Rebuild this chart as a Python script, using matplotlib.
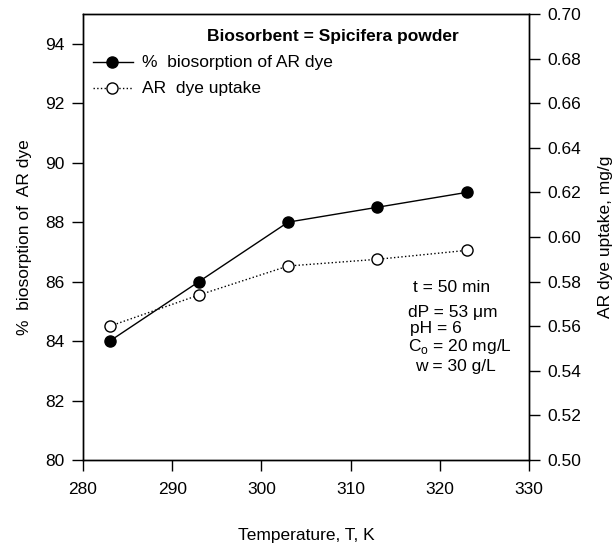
import matplotlib
matplotlib.use("Agg")
import matplotlib.pyplot as plt
from matplotlib.lines import Line2D

plt.rcParams["font.family"] = ["Liberation Sans", "DejaVu Sans"]
plt.rcParams["font.size"] = 12.5

# Temperature effect on AR dye biosorption by Spicifera powder
temperature = [283, 293, 303, 313, 323]
biosorption_pct = [84.0, 86.0, 88.0, 88.5, 89.0]
dye_uptake = [0.560, 0.574, 0.587, 0.590, 0.594]

left_ticks = [80, 82, 84, 86, 88, 90, 92, 94]
right_ticks = [0.50, 0.52, 0.54, 0.56, 0.58, 0.60, 0.62, 0.64, 0.66, 0.68, 0.70]
x_ticks = [280, 290, 300, 310, 320, 330]

conditions = [
    (452, 288, "t = 50 min"),
    (453, 312, "dP = 53 \u03bcm"),
    (436, 329, "pH = 6"),
    (460, 347, "C$_\\mathregular{o}$ = 20 mg/L"),
    (455, 367, "w = 30 g/L"),
]

FS = 12.5
W, H = 613, 548
fig = plt.figure(figsize=(W / 100, H / 100), dpi=100)
ax = fig.add_axes([83 / W, 1 - 460 / H, (529 - 83) / W, (460 - 14) / H])
ax2 = ax.twinx()

ax.plot(temperature, biosorption_pct, "-o", color="black", lw=1,
        markersize=8, markerfacecolor="black", zorder=3)
ax2.plot(temperature, dye_uptake, ":o", color="black", lw=1,
         markersize=8, markerfacecolor="white", zorder=3)

ax.set_xlim(280, 330)
ax.set_ylim(80, 95)
ax2.set_ylim(0.50, 0.70)
ax.set_xticks(x_ticks)
ax.set_yticks(left_ticks)
ax2.set_yticks(right_ticks)
ax2.set_yticklabels([f"{v:.2f}" for v in right_ticks])

for a in (ax, ax2):
    a.tick_params(direction="out", length=8, width=1, pad=5, labelsize=FS)
    for s in a.spines.values():
        s.set_linewidth(1)
ax.tick_params(axis="x", pad=8)

ax.set_xlabel("Temperature, T, K", fontsize=FS, labelpad=22)
ax.set_ylabel("%  biosorption of  AR dye", fontsize=FS, labelpad=10)
ax2.set_ylabel("AR dye uptake, mg/g", fontsize=FS, labelpad=12)

# legend drawn in figure pixels
def fx(px):
    return px / W

def fy(py):
    return 1 - py / H

fig.text(fx(333), fy(36), "Biosorbent = Spicifera powder", fontsize=FS,
         fontweight="bold", ha="center", va="center")
fig.add_artist(Line2D([fx(93), fx(133)], [fy(62), fy(62)], color="black", lw=1))
fig.add_artist(Line2D([fx(112)], [fy(62)], color="black", marker="o",
                      markersize=8, markerfacecolor="black"))
fig.add_artist(Line2D([fx(93), fx(133)], [fy(88), fy(88)], color="black", lw=1,
                      linestyle=":"))
fig.add_artist(Line2D([fx(112)], [fy(88)], color="black", marker="o",
                      markersize=8, markerfacecolor="white"))
fig.text(fx(142), fy(62), "%  biosorption of AR dye", fontsize=FS, va="center")
fig.text(fx(142), fy(88), "AR  dye uptake", fontsize=FS, va="center")

for x, y, s in conditions:
    fig.text(fx(x), fy(y), s, fontsize=FS, ha="center", va="center")

fig.savefig("out.png", dpi=100)
